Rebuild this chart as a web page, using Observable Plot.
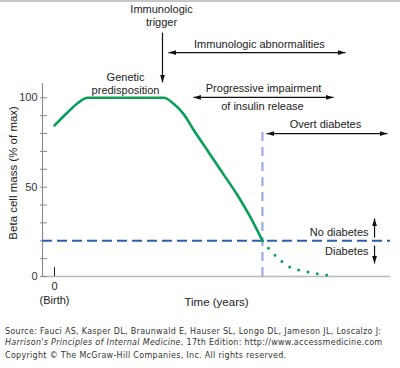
<!DOCTYPE html>
<html>
<head>
<meta charset="utf-8">
<script src="https://cdn.jsdelivr.net/npm/d3@7"></script>
<script src="https://cdn.jsdelivr.net/npm/@observablehq/plot@0.6"></script>
<style>
  html, body { margin: 0; padding: 0; background: #fff; }
  #wrap { position: relative; width: 400px; height: 368px; overflow: hidden; }
  #topbar { position: absolute; left: 0; top: 0; width: 400px; height: 2px; background: #c6c6c6; }
  #caption { font-family: "DejaVu Sans", Verdana, sans-serif; font-size: 8px; letter-spacing: 0.3px; color: #333; padding-left: 5px; margin-top: 6px; white-space: nowrap; }
  #caption .l { height: 11px; line-height: 11px; }
  #caption .c { margin-top: 2px; }
</style>
</head>
<body>
<div id="wrap">
  <div id="chart"></div>
  <div id="caption">
    <div class="l">Source: Fauci AS, Kasper DL, Braunwald E, Hauser SL, Longo DL, Jameson JL, Loscalzo J:</div>
    <div class="l"><i>Harrison's Principles of Internal Medicine</i>, 17th Edition: http://www.accessmedicine.com</div>
    <div class="l c">Copyright © The McGraw-Hill Companies, Inc. All rights reserved.</div>
  </div>
  <div id="topbar"></div>
</div>
<script>
// --- data ---
const curveX = [0, 1.08, 1.9, 2.75, 9.1, 9.9, 10.75, 11.6, 12.8, 14, 15.2, 16.3, 17.33];
const curveY = [84.5, 91.8, 96.8, 100, 100, 96.8, 91, 82, 70, 58, 46, 33.5, 20];
const dottedX = [17.33, 18, 18.83, 19.67, 20.5, 21.3, 22.75];
const dottedY = [20, 14.5, 9, 5, 3.4, 2.2, 0.8];
const threshold = 20;
const onsetX = 17.33;
const onsetTop = 82.8;
const yTicks = [0, 10, 20, 30, 40, 50, 60, 70, 80, 90, 100];
const yTickLabels = [0, 50, 100];

// annotations (data coordinates)
const labelsMiddle = [
  {x: 8.92, y: 146, text: "Immunologic\ntrigger"},
  {x: 17.08, y: 130.4, text: "Immunologic abnormalities"},
  {x: 5.92, y: 108.3, text: "Genetic\npredisposition"},
  {x: 17.42, y: 105.8, text: "Progressive impairment"},
  {x: 17.33, y: 95.7, text: "of insulin release"},
  {x: 22.58, y: 85.6, text: "Overt diabetes"}
];
const labelsEnd = [
  {x: 26.17, y: 24.6, text: "No diabetes"},
  {x: 26.17, y: 14, text: "Diabetes"}
];
const arrows = [
  {x1: 9, y1: 136.5, x2: 9, y2: 108.6, both: false},
  {x1: 9.5, y1: 125.3, x2: 24.25, y2: 125.3, both: true},
  {x1: 11.58, y1: 100.2, x2: 23.25, y2: 100.2, both: true},
  {x1: 17.67, y1: 80, x2: 27.75, y2: 80, both: true},
  {x1: 26.67, y1: 21.8, x2: 26.67, y2: 32.5, both: false},
  {x1: 26.67, y1: 17.3, x2: 26.67, y2: 7.3, both: false}
];

// --- derived tables ---
const curve = curveX.map((x, i) => ({x, y: curveY[i]}));
const dotted = dottedX.map((x, i) => ({x, y: dottedY[i]}));
function dirAngle(ax, ay, bx, by) {
  if (ax === bx) return by > ay ? 0 : 180;
  return bx > ax ? 90 : 270;
}
const heads = [];
for (const a of arrows) {
  heads.push({x: a.x2, y: a.y2, r: dirAngle(a.x1, a.y1, a.x2, a.y2)});
  if (a.both) heads.push({x: a.x1, y: a.y1, r: dirAngle(a.x2, a.y2, a.x1, a.y1)});
}
const headSymbol = {
  draw(ctx) {
    ctx.moveTo(0, 0);
    ctx.lineTo(2.4, 7.5);
    ctx.lineTo(-2.4, 7.5);
    ctx.closePath();
  }
};

const green = "#0a9f58";
const chart = Plot.plot({
  width: 400,
  height: 320,
  marginLeft: 42,
  marginRight: 10,
  marginTop: 83,
  marginBottom: 44,
  style: {fontFamily: "'Liberation Sans', Arial, sans-serif", fontSize: "11px", color: "#222", background: "#fff"},
  x: {domain: [-1, 28], axis: null},
  y: {domain: [0, 108], axis: null},
  marks: [
    Plot.ruleY([0], {stroke: "#b8b8b8", strokeWidth: 1.5}),
    Plot.ruleX([-1], {y1: 0, y2: 108, stroke: "#8c8c8c", strokeWidth: 1.2}),
    Plot.axisY({ticks: yTicks, tickSize: 7, dx: 5, tickPadding: 3, tickFormat: d => yTickLabels.includes(d) ? String(d) : "",
      stroke: "#8c8c8c", fill: "#333", fontSize: 11, label: null}),
    Plot.ruleX([0], {y1: 0, y2: 5, stroke: "#222", strokeWidth: 1}),
    Plot.text(["0"], {x: 0, y: 0, dy: 10, text: d => d, fill: "#222"}),
    Plot.text(["(Birth)"], {x: 0, y: 0, dy: 24, text: d => d, fill: "#222"}),
    Plot.text(["Time (years)"], {x: 13.5, y: 0, dy: 26, text: d => d, fill: "#222", fontSize: 11.5}),
    Plot.text(["Beta cell mass (% of max)"], {frameAnchor: "left", y: 58, dx: -29, rotate: -90, textAnchor: "middle", text: d => d, fill: "#222", fontSize: 11.5}),
    Plot.ruleY([threshold], {stroke: "#2f5fae", strokeWidth: 2, strokeDasharray: "10,5"}),
    Plot.ruleX([onsetX], {y1: 0, y2: onsetTop, stroke: "#8ea6dc", strokeWidth: 2, strokeDasharray: "9,6"}),
    Plot.line(curve, {x: "x", y: "y", curve: "monotone-x", stroke: green, strokeWidth: 2.6}),
    Plot.line(dotted, {x: "x", y: "y", curve: "monotone-x", stroke: green, strokeWidth: 3, strokeDasharray: "0,9.5", strokeLinecap: "round"}),
    Plot.link(arrows, {x1: "x1", y1: "y1", x2: "x2", y2: "y2", stroke: "#111", strokeWidth: 1.2}),
    Plot.dot(heads, {x: "x", y: "y", rotate: "r", symbol: headSymbol, fill: "#111", stroke: "none"}),
    Plot.text(labelsMiddle, {x: "x", y: "y", text: "text", textAnchor: "middle", lineAnchor: "middle", lineHeight: 1.2, fill: "#222"}),
    Plot.text(labelsEnd, {x: "x", y: "y", text: "text", textAnchor: "end", lineAnchor: "middle", fill: "#222"})
  ]
});
document.getElementById("chart").appendChild(chart);
</script>
</body>
</html>
